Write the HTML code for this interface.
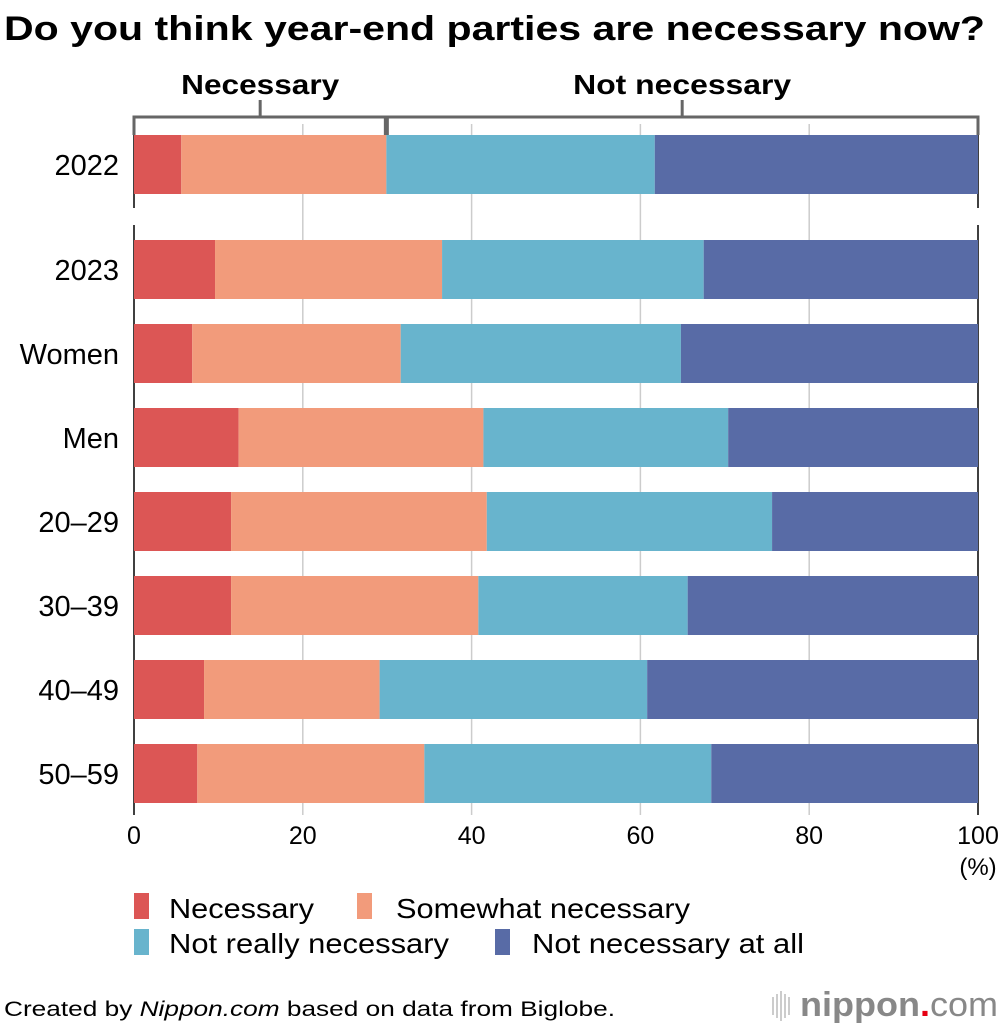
<!DOCTYPE html>
<html><head><meta charset="utf-8"><style>
body{margin:0;background:#fff;}
svg{display:block;font-family:"Liberation Sans",sans-serif;}
</style></head><body>
<svg id="c" width="1000" height="1030" viewBox="0 0 1000 1030">
<text x="4" y="40" font-size="34" font-weight="bold" fill="#000" textLength="981" lengthAdjust="spacingAndGlyphs">Do you think year-end parties are necessary now?</text>
<g id="grid"></g>
<g id="bars"></g>
<g id="labels"></g>
<g id="bracket"></g>
<g id="ticks"></g>
<g>
<rect x="134" y="893" width="15" height="26" fill="#dc5655"/>
<text x="169" y="918" font-size="28" textLength="145" lengthAdjust="spacingAndGlyphs">Necessary</text>
<rect x="357" y="893" width="15" height="26" fill="#f29b7b"/>
<text x="396" y="918" font-size="28" textLength="294" lengthAdjust="spacingAndGlyphs">Somewhat necessary</text>
<rect x="134" y="929" width="15" height="26" fill="#68b4cd"/>
<text x="169" y="953" font-size="28" textLength="280" lengthAdjust="spacingAndGlyphs">Not really necessary</text>
<rect x="495" y="929" width="15" height="26" fill="#586ba6"/>
<text x="532" y="953" font-size="28" textLength="272" lengthAdjust="spacingAndGlyphs">Not necessary at all</text>
</g>
<text x="4" y="1016" font-size="21" textLength="611" lengthAdjust="spacingAndGlyphs">Created by <tspan font-style="italic">Nippon.com</tspan> based on data from Biglobe.</text>
<g>
<g stroke="#bbb" stroke-width="1.5"><line x1="773" y1="997" x2="773" y2="1015"/><line x1="777" y1="994" x2="777" y2="1018"/><line x1="781" y1="991" x2="781" y2="1021"/><line x1="785" y1="994" x2="785" y2="1018"/><line x1="789" y1="997" x2="789" y2="1015"/></g>
<text x="800" y="1016" font-size="34" fill="#888" font-weight="bold" textLength="198" lengthAdjust="spacingAndGlyphs">nippon<tspan fill="#e60012">.</tspan><tspan font-weight="normal">com</tspan></text>
</g>
</svg>
<script>
const categories=["2022","2023","Women","Men","20–29","30–39","40–49","50–59"];
const necessary=[5.6,9.6,6.9,12.4,11.5,11.5,8.3,7.5];
const somewhat=[24.3,26.9,24.7,29.0,30.3,29.3,20.8,26.9];
const notReally=[31.8,31.0,33.2,29.0,33.8,24.8,31.7,34.0];
const notAtAll=[38.3,32.5,35.2,29.6,24.4,34.4,39.2,31.6];
const xTicks=[0,20,40,60,80,100];
const NS="http://www.w3.org/2000/svg";
const x=v=>134+v*8.44;
const yTop=i=>i===0?135:240+(i-1)*84;
const barH=59;
function mk(tag,attrs,parent){const e=document.createElementNS(NS,tag);for(const k in attrs)e.setAttribute(k,attrs[k]);parent.appendChild(e);return e;}
const grid=document.getElementById('grid'),bars=document.getElementById('bars'),labels=document.getElementById('labels'),ticks=document.getElementById('ticks'),br=document.getElementById('bracket');
xTicks.forEach(t=>{
 if(t>0&&t<100){const l=mk('line',{x1:x(t),x2:x(t),y1:124,y2:815,stroke:'#ccc','stroke-width':1.5},grid);
 
 }
 const tx=mk('text',{x:x(t),y:844,'font-size':25,'text-anchor':'middle'},ticks);
 tx.textContent=t;
 
 
});
const pct=mk('text',{x:978,y:875,'font-size':24,'text-anchor':'middle'},ticks);pct.textContent='(%)';


[0,100].forEach(t=>{
 [[124,208],[225,815]].forEach(([a,b])=>{const l=mk('line',{x1:x(t),x2:x(t),y1:a,y2:b,stroke:'#000','stroke-width':1.5},grid);
 
 });
});
const series=[necessary,somewhat,notReally,notAtAll];
const colors=['#dc5655','#f29b7b','#68b4cd','#586ba6'];
const snames=['necessary','somewhat','not-really','not-at-all'];
categories.forEach((c,i)=>{
 let acc=0;
 series.forEach((s,j)=>{
  const r=mk('rect',{x:x(acc),y:yTop(i),width:s[i]*8.44,height:barH,fill:colors[j]},bars);
  
  
  acc+=s[i];
 });
 const t=mk('text',{x:119,y:yTop(i)+40,'font-size':29,'text-anchor':'end'},labels);
 t.textContent=c;
 
 
});
const split=necessary[0]+somewhat[0];
const p=mk('path',{d:`M${x(0)},135 V117 H${x(100)} V135`,fill:'none',stroke:'#666','stroke-width':3},br);


mk('line',{x1:x(split),x2:x(split),y1:117,y2:135,stroke:'#666','stroke-width':5},br);
mk('line',{x1:x(split/2),x2:x(split/2),y1:100,y2:117,stroke:'#666','stroke-width':3},br);
mk('line',{x1:x((split+100)/2),x2:x((split+100)/2),y1:100,y2:117,stroke:'#666','stroke-width':3},br);
const g1=mk('text',{x:x(split/2),y:94,'font-size':28,'font-weight':'bold','text-anchor':'middle',textLength:158,lengthAdjust:'spacingAndGlyphs'},br);g1.textContent='Necessary';


const g2=mk('text',{x:x((split+100)/2),y:94,'font-size':28,'font-weight':'bold','text-anchor':'middle',textLength:218,lengthAdjust:'spacingAndGlyphs'},br);g2.textContent='Not necessary';


</script>
</body></html>
